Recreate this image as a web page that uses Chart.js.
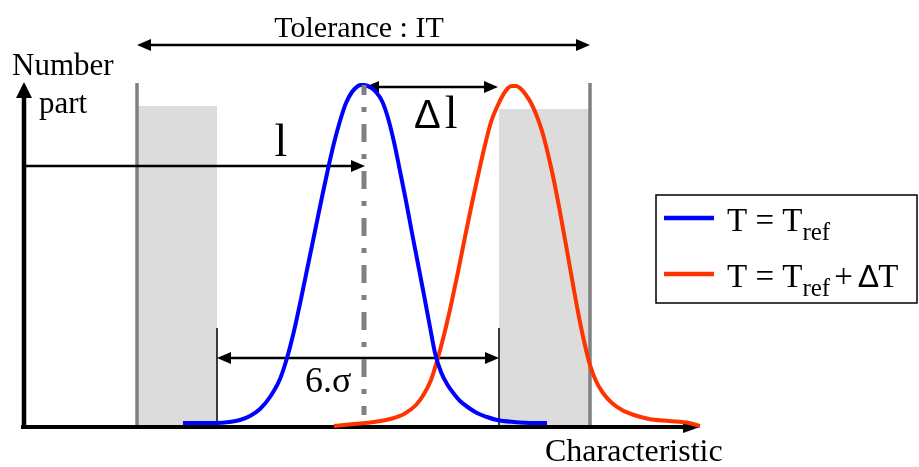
<!DOCTYPE html>
<html><head><meta charset="utf-8">
<script src="https://cdn.jsdelivr.net/npm/chart.js@4/dist/chart.umd.min.js"></script>
<style>html,body{margin:0;padding:0;background:#fff;}canvas{display:block}</style>
</head><body>
<canvas id="c" width="919" height="467"></canvas>
<script>
// ---- data (characteristic units / number of parts, arbitrary units) ----
const seriesNames = ['T = Tref', 'T = Tref + ΔT'];
const blueX = [159, 193, 205, 216, 226, 236, 246, 256, 263, 270, 277, 284, 291, 298, 304, 310, 316, 322, 328, 334, 337, 340, 346, 352, 358, 364, 370, 376, 382, 388, 394, 400, 406, 411, 417, 423, 430, 436, 445, 453, 463, 473, 490, 510, 523];
const blueY = [4, 4, 5, 7, 11, 18, 30, 48, 69, 96, 128, 162, 196, 230, 258, 284, 306, 324, 335, 341, 342, 342, 340, 335, 326, 309, 285, 256, 226, 194, 163, 132, 100, 74, 55, 43, 33, 26, 19, 14, 10, 7, 5, 4, 4];
const redX = [310, 330, 350, 366, 380, 392, 400, 407, 413, 420, 427, 434, 441, 448, 455, 461, 467, 473, 479, 484, 488, 492, 497, 502, 507, 512, 518, 524, 530, 536, 542, 548, 554, 560, 566, 572, 579, 588, 598, 610, 625, 645, 665, 676];
const redY = [1, 3, 5, 8, 13, 22, 33, 47, 66, 92, 122, 155, 190, 224, 256, 282, 305, 320, 332, 339, 341, 341, 338, 332, 324, 313, 296, 273, 246, 215, 182, 148, 115, 86, 62, 46, 34, 24, 17, 12, 8, 6, 4, 1];
const toleranceLimits = [113, 566];
const sixSigmaLimits = [193, 475];
const rejectTops = [321, 318];
const nominalMean = 340;
const shiftedMean = 475;

const BLUE = '#0000ff', RED = '#ff3300', GREY = '#808080', LIGHT = '#dcdcdc';
const SERIF = '"Liberation Serif", "Times New Roman", serif';
const SANS = '"Liberation Sans", Arial, sans-serif';

function head(ctx, x, y, ang, len, half) {
  ctx.save(); ctx.translate(x, y); ctx.rotate(ang);
  ctx.beginPath(); ctx.moveTo(0, 0); ctx.lineTo(-len, -half); ctx.lineTo(-len, half); ctx.closePath();
  ctx.fill(); ctx.restore();
}
function seg(ctx, x1, y1, x2, y2, w, col, dash, off) {
  ctx.save(); ctx.strokeStyle = col; ctx.lineWidth = w; ctx.setLineDash(dash || []);
  ctx.lineDashOffset = off || 0;
  ctx.beginPath(); ctx.moveTo(x1, y1); ctx.lineTo(x2, y2); ctx.stroke(); ctx.restore();
}
function hArrow(ctx, x1, x2, y, both) {
  ctx.fillStyle = '#000';
  seg(ctx, both ? x1 + 8 : x1, y, x2 - 8, y, 2.5, '#000');
  head(ctx, x2, y, 0, 14, 6);
  if (both) head(ctx, x1, y, Math.PI, 14, 6);
}

const drawing = {
  id: 'drawing',
  beforeDatasetsDraw(chart) {
    const ctx = chart.ctx, xs = chart.scales.x, ys = chart.scales.y;
    const px = v => xs.getPixelForValue(v), py = v => ys.getPixelForValue(v);
    // reject zones
    ctx.fillStyle = LIGHT;
    ctx.fillRect(px(toleranceLimits[0]), py(rejectTops[0]), px(sixSigmaLimits[0]) - px(toleranceLimits[0]), py(0) - py(rejectTops[0]));
    ctx.fillRect(px(sixSigmaLimits[1]), py(rejectTops[1]), px(toleranceLimits[1]) - px(sixSigmaLimits[1]), py(0) - py(rejectTops[1]));
    // tolerance limits
    toleranceLimits.forEach(t => seg(ctx, px(t), py(0) + 1, px(t), py(344), 3.5, GREY));
    // axes
    ctx.fillStyle = '#000';
    seg(ctx, px(-3), py(0), px(668), py(0), 4, '#000');
    head(ctx, px(676), py(0), 0, 17, 6);
    seg(ctx, px(0), py(0) + 2, px(0), py(335), 4.5, '#000');
    head(ctx, px(0), py(345), -Math.PI / 2, 16, 8);
    // 6 sigma markers
    sixSigmaLimits.forEach(s => seg(ctx, px(s), py(99), px(s), py(0), 1.5, '#000'));
    hArrow(ctx, px(sixSigmaLimits[0]), px(sixSigmaLimits[1]), py(69), true);
    // l arrow
    hArrow(ctx, px(0), px(nominalMean) + 1, py(261), false);
    // delta l arrow
    hArrow(ctx, px(nominalMean) + 1, px(shiftedMean - 1), py(340), true);
    // tolerance arrow
    hArrow(ctx, px(toleranceLimits[0]), px(toleranceLimits[1]), py(382), true);
  },
  afterDatasetsDraw(chart) {
    const ctx = chart.ctx, xs = chart.scales.x, ys = chart.scales.y;
    const px = v => xs.getPixelForValue(v), py = v => ys.getPixelForValue(v);
    // mean dash-dot line
    seg(ctx, px(nominalMean), py(342), px(nominalMean), py(12), 5, GREY, [18, 12, 5, 12], 8);
    ctx.fillStyle = '#000'; ctx.textBaseline = 'alphabetic';
    ctx.textAlign = 'center';
    ctx.font = '30px ' + SERIF;
    ctx.fillText('Tolerance : IT', px(335), 37);
    ctx.textAlign = 'left';
    ctx.font = '31px ' + SERIF;
    ctx.fillText('Number', 12, 75);
    ctx.fillText('part', 39, 113);
    ctx.font = '32px ' + SERIF;
    ctx.fillText('Characteristic', 545, 461);
    ctx.font = '46px ' + SERIF;
    ctx.textAlign = 'center';
    ctx.fillText('l', 281, 156);
    ctx.textAlign = 'left';
    ctx.font = '40px ' + SANS;
    ctx.fillText('Δ', 414, 128);
    let w = ctx.measureText('Δ').width;
    ctx.font = '46px ' + SERIF;
    ctx.fillText('l', 414 + w + 4, 128);
    ctx.font = '36px ' + SERIF;
    ctx.fillText('6.σ', 305, 392);
    // legend
    ctx.save();
    ctx.fillStyle = '#fff'; ctx.fillRect(656, 195, 261, 108);
    ctx.strokeStyle = '#000'; ctx.lineWidth = 1.5; ctx.strokeRect(656, 195, 261, 108);
    const ds = chart.data.datasets;
    const rows = [218, 274];
    rows.forEach((y, i) => {
      seg(ctx, 664, y, 714, y, 4.5, ds[i].borderColor);
      ctx.fillStyle = '#000';
      let x = 727;
      ctx.font = '33px ' + SERIF;
      ctx.fillText('T = T', x, y + 13); x += ctx.measureText('T = T').width;
      ctx.font = '25px ' + SERIF;
      ctx.fillText('ref', x, y + 22); x += ctx.measureText('ref').width;
      if (i === 1) {
        ctx.font = '33px ' + SERIF;
        ctx.fillText('+', x + 4, y + 13); x += ctx.measureText('+').width + 9;
        ctx.font = '32px ' + SANS;
        ctx.fillText('Δ', x, y + 13); x += ctx.measureText('Δ').width;
        ctx.font = '33px ' + SERIF;
        ctx.fillText('T', x - 1, y + 13);
      }
    });
    ctx.restore();
  }
};

const toPts = (xa, ya) => xa.map((x, i) => ({ x, y: ya[i] }));
new Chart(document.getElementById('c'), {
  type: 'line',
  data: {
    datasets: [
      { label: seriesNames[0], data: toPts(blueX, blueY), borderColor: BLUE, borderWidth: 4, pointRadius: 0, cubicInterpolationMode: 'monotone', fill: false, clip: false },
      { label: seriesNames[1], data: toPts(redX, redY), borderColor: RED, borderWidth: 4, pointRadius: 0, cubicInterpolationMode: 'monotone', fill: false, clip: false }
    ]
  },
  options: {
    responsive: false, animation: false,
    layout: { padding: { left: 24, right: 219, top: 85, bottom: 40 } },
    scales: {
      x: { type: 'linear', min: 0, max: 676, display: false },
      y: { min: 0, max: 342, display: false }
    },
    plugins: { legend: { display: false }, tooltip: { enabled: false } }
  },
  plugins: [drawing]
});
</script>
</body></html>
